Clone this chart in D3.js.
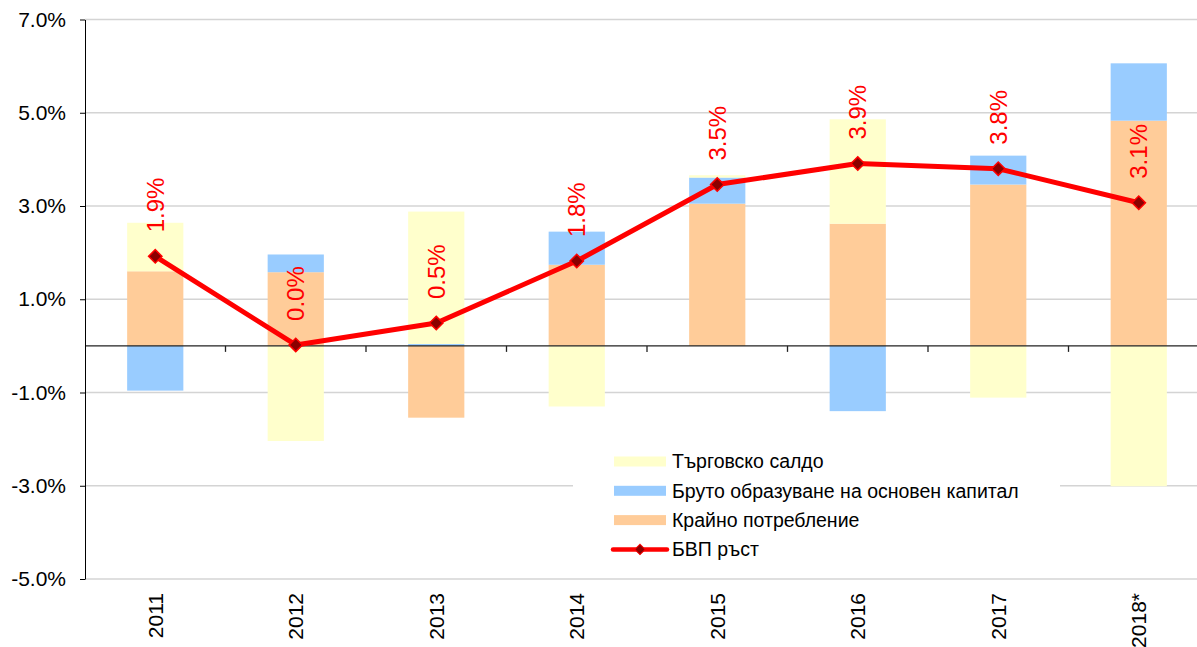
<!DOCTYPE html>
<html lang="bg">
<head>
    <meta charset="UTF-8">
    <script src="https://d3js.org/d3.v7.min.js"></script>
    <style>
        body {
            margin: 0;
            background: white;
        }
        svg {
            display: block;
            font-family: "Liberation Sans", Arial, sans-serif;
        }
    </style>
</head>
<body>
    <svg width="1197" height="647"></svg>
    <script>
        // values, in percent
        var years = ["2011", "2012", "2013", "2014", "2015", "2016", "2017", "2018*"];
        var consumption = [1.60, 1.58, -1.54, 1.74, 3.05, 2.62, 3.46, 4.83];
        var investment = [-0.96, 0.38, 0.04, 0.71, 0.56, -1.40, 0.62, 1.23];
        var trade = [1.04, -2.04, 2.84, -1.30, 0.05, 2.24, -1.11, -3.01];
        var gdp = [1.92, 0.02, 0.49, 1.82, 3.46, 3.91, 3.80, 3.07];
        var yTicks = [-5, -3, -1, 1, 3, 5, 7];

        var seriesNames = {
            trade: "Търговско салдо",
            investment: "Бруто образуване на основен капитал",
            consumption: "Крайно потребление",
            gdp: "БВП ръст"
        };
        var colors = {consumption: "#ffcc99", investment: "#99ccff", trade: "#ffffcc"};

        var svg = d3.select("svg");
        // note: "top" is taken by window.top, so plot* names
        var plotLeft = 85, plotRight = 1209, plotTop = 19.5, plotBottom = 579;

        var x = d3.scaleBand().domain(years).range([plotLeft, plotRight])
            .paddingInner(0.6).paddingOuter(0.3);
        var y = d3.scaleLinear().domain([-5, 7]).range([plotBottom, plotTop]);

        // gridlines
        svg.append("g")
            .selectAll("line")
            .data(yTicks)
            .enter()
            .append("line")
            .attr("x1", plotLeft)
            .attr("x2", plotRight)
            .attr("y1", function(d) { return y(d); })
            .attr("y2", function(d) { return y(d); })
            .attr("stroke", "#d4d4d4")
            .attr("stroke-width", 1.5);

        // stacked bars
        var table = years.map(function(yr, i) {
            return {year: yr, consumption: consumption[i], investment: investment[i], trade: trade[i]};
        });
        var stack = d3.stack()
            .keys(["consumption", "investment", "trade"])
            .offset(d3.stackOffsetDiverging);

        svg.append("g")
            .selectAll("g")
            .data(stack(table))
            .enter()
            .append("g")
            .attr("fill", function(s) { return colors[s.key]; })
            .selectAll("rect")
            .data(function(s) { return s; })
            .enter()
            .append("rect")
            .attr("x", function(d) { return x(d.data.year); })
            .attr("width", x.bandwidth())
            .attr("y", function(d) { return y(Math.max(d[0], d[1])); })
            .attr("height", function(d) { return Math.abs(y(d[0]) - y(d[1])); });

        // zero line with category ticks
        svg.append("line")
            .attr("x1", plotLeft).attr("x2", plotRight)
            .attr("y1", y(0)).attr("y2", y(0))
            .attr("stroke", "#222")
            .attr("stroke-width", 1.3);

        svg.append("g")
            .selectAll("line")
            .data(years)
            .enter()
            .append("line")
            .attr("x1", function(d) { return x(d) + x.bandwidth() + x.step() * 0.3; })
            .attr("x2", function(d) { return x(d) + x.bandwidth() + x.step() * 0.3; })
            .attr("y1", y(0))
            .attr("y2", y(0) + 6)
            .attr("stroke", "#222")
            .attr("stroke-width", 1.3);

        // y axis
        var yAxis = svg.append("g")
            .attr("transform", "translate(" + plotLeft + ",0)")
            .call(d3.axisLeft(y)
                .tickValues(yTicks)
                .tickSize(5)
                .tickSizeOuter(0)
                .tickPadding(14)
                .tickFormat(function(d) { return d.toFixed(1) + "%"; }));
        yAxis.selectAll("text")
            .attr("font-size", "21px")
            .attr("font-family", "Liberation Sans, Arial, sans-serif")
            .attr("fill", "black");
        yAxis.selectAll("path, line").attr("stroke", "black");

        // year labels
        svg.append("g")
            .selectAll("text")
            .data(years)
            .enter()
            .append("text")
            .attr("transform", function(d) {
                return "translate(" + (x(d) + x.bandwidth() / 2) + "," + (plotBottom + 14) + ") rotate(-90)";
            })
            .attr("dy", "0.35em")
            .attr("text-anchor", "end")
            .attr("font-size", "21px")
            .text(function(d) { return d; });

        // gdp line
        var cx = function(i) { return x(years[i]) + x.bandwidth() / 2; };
        var line = d3.line()
            .x(function(d, i) { return cx(i); })
            .y(function(d) { return y(d); });

        svg.append("path")
            .datum(gdp)
            .attr("d", line)
            .attr("fill", "none")
            .attr("stroke", "#ff0000")
            .attr("stroke-width", 5)
            .attr("stroke-linejoin", "round");

        var diamond = d3.symbol().type(d3.symbolSquare).size(90);

        svg.append("g")
            .selectAll("path")
            .data(gdp)
            .enter()
            .append("path")
            .attr("d", diamond)
            .attr("transform", function(d, i) {
                return "translate(" + cx(i) + "," + y(d) + ") rotate(45)";
            })
            .attr("fill", "#8b0000")
            .attr("stroke", "#ff0000")
            .attr("stroke-width", 1.5);

        svg.append("g")
            .selectAll("text")
            .data(gdp)
            .enter()
            .append("text")
            .attr("transform", function(d, i) {
                return "translate(" + cx(i) + "," + (y(d) - 24) + ") rotate(-90)";
            })
            .attr("dy", "0.35em")
            .attr("text-anchor", "start")
            .attr("font-size", "24px")
            .attr("fill", "#ff0000")
            .text(function(d) { return d.toFixed(1) + "%"; });

        // legend
        var legend = svg.append("g");
        legend.append("rect")
            .attr("x", 573)
            .attr("y", 436)
            .attr("width", 487)
            .attr("height", 141)
            .attr("fill", "white");

        var legendKeys = ["trade", "investment", "consumption", "gdp"];
        var item = legend.selectAll(".item")
            .data(legendKeys)
            .enter()
            .append("g")
            .attr("class", "item")
            .attr("transform", function(d, i) { return "translate(614," + (461.5 + i * 29.3) + ")"; });

        item.filter(function(d) { return d !== "gdp"; })
            .append("rect")
            .attr("x", 0)
            .attr("y", -5)
            .attr("width", 52)
            .attr("height", 10)
            .attr("fill", function(d) { return colors[d]; });

        var gdpItem = item.filter(function(d) { return d === "gdp"; });
        gdpItem.append("line")
            .attr("x1", -1).attr("x2", 53)
            .attr("y1", 0).attr("y2", 0)
            .attr("stroke", "#ff0000")
            .attr("stroke-width", 4.5)
            .attr("stroke-linecap", "round");
        gdpItem.append("path")
            .attr("d", d3.symbol().type(d3.symbolSquare).size(55))
            .attr("transform", "translate(26,0) rotate(45)")
            .attr("fill", "#8b0000")
            .attr("stroke", "#ff0000")
            .attr("stroke-width", 1);

        item.append("text")
            .attr("x", 58)
            .attr("dy", "0.35em")
            .attr("font-size", "19.5px")
            .attr("fill", "black")
            .text(function(d) { return seriesNames[d]; });
    </script>
</body>
</html>
